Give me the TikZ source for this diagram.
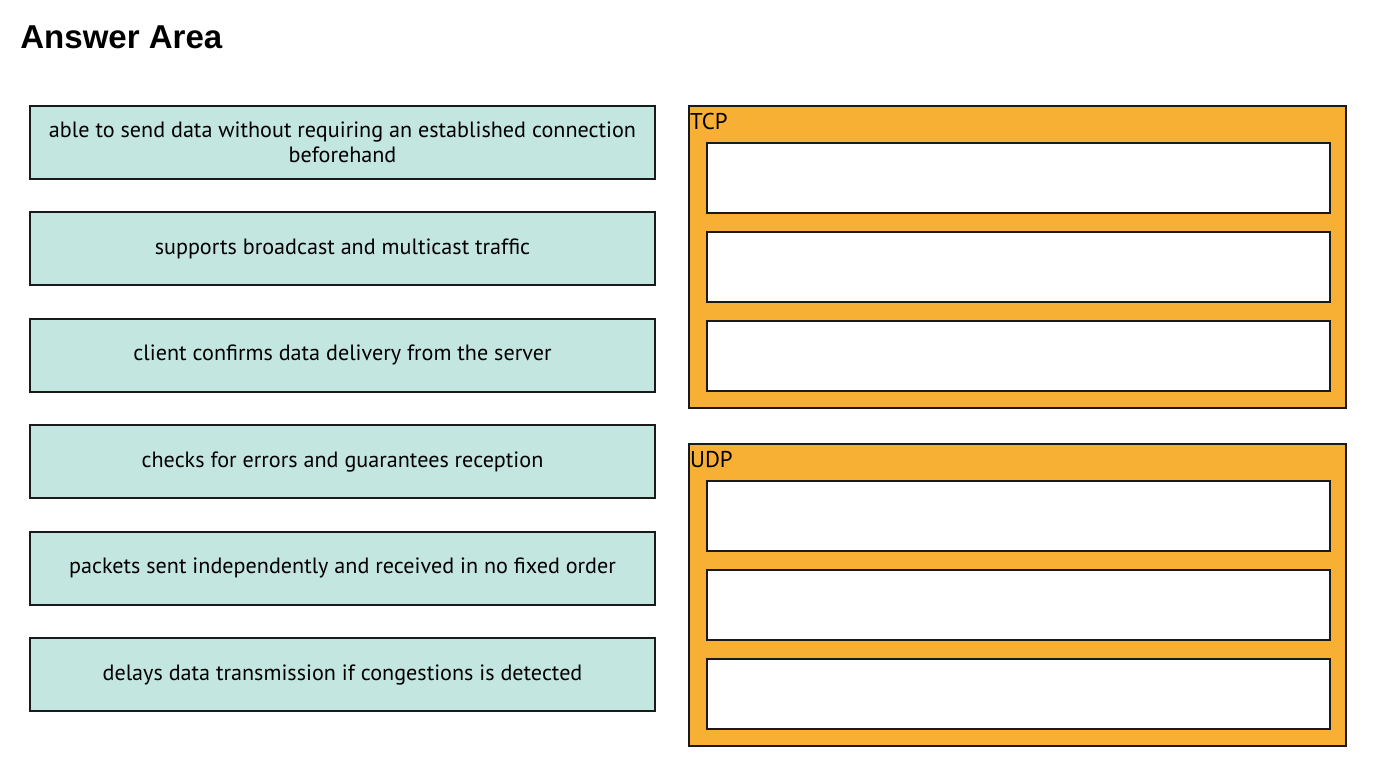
\documentclass[tikz,border=0pt]{standalone}
\usepackage{fontspec}
\setmainfont{PT Sans}
\newfontfamily\titlefont{Liberation Sans}
\usepackage{xcolor}
\usetikzlibrary{positioning}

\definecolor{itemteal}{HTML}{C4E6E0}
\definecolor{panelorange}{HTML}{F7B034}
\definecolor{edgedark}{HTML}{1A1A1A}

\tikzset{
  itembox/.style={rectangle, draw=edgedark, line width=1.1pt, fill=itemteal,
    minimum width=12.5cm, minimum height=1.46cm, align=center,
    font=\fontsize{12.6}{14.5}\selectfont},
  panel/.style={rectangle, draw=edgedark, line width=1.1pt, fill=panelorange,
    minimum width=13.14cm, minimum height=6.04cm},
  slotbox/.style={rectangle, draw=edgedark, line width=1pt, fill=white,
    minimum width=12.46cm, minimum height=1.4cm},
  paneltitle/.style={anchor=north west, inner sep=1pt, yshift=-0.12cm, font=\fontsize{13}{14}\selectfont}
}

\begin{document}
\begin{tikzpicture}[node distance=0.63cm]
    \useasboundingbox (0,0) rectangle (27.46,-15.68);
    \node[anchor=west, inner sep=0pt, font=\titlefont\bfseries\fontsize{18.8}{22}\selectfont] (title) at (0.4,-0.74) {Answer Area};

    % items to sort
    \node[itembox] (item1) at (6.85,-2.85) {able to send data without requiring an established connection\\beforehand};
    \node[itembox, below=of item1] (item2) {supports broadcast and multicast traffic};
    \node[itembox, below=of item2] (item3) {client confirms data delivery from the server};
    \node[itembox, below=of item3] (item4) {checks for errors and guarantees reception};
    \node[itembox, below=of item4] (item5) {packets sent independently and received in no fixed order};
    \node[itembox, below=of item5] (item6) {delays data transmission if congestions is detected};

    % TCP target
    \node[panel] (tcp) at (20.35,-5.14) {};
    \node[paneltitle] (tcplabel) at (tcp.north west) {TCP};
    \node[slotbox] (tcp2) at (20.37,-5.34) {};
    \node[slotbox, above=0.34cm of tcp2] (tcp1) {};
    \node[slotbox, below=0.34cm of tcp2] (tcp3) {};

    % UDP target
    \node[panel] (udp) at (20.35,-11.9) {};
    \node[paneltitle] (udplabel) at (udp.north west) {UDP};
    \node[slotbox] (udp2) at (20.37,-12.1) {};
    \node[slotbox, above=0.34cm of udp2] (udp1) {};
    \node[slotbox, below=0.34cm of udp2] (udp3) {};
\end{tikzpicture}
\end{document}
